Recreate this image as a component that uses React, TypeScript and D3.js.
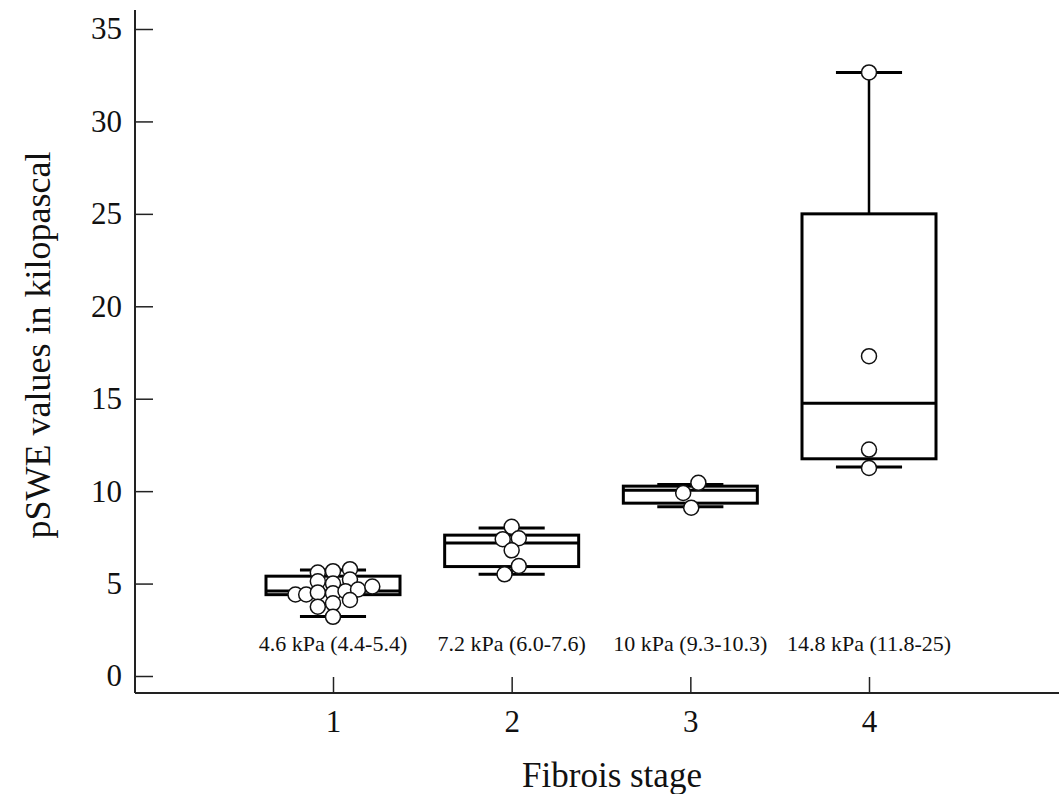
import React, { useEffect, useRef } from 'react';
import * as d3 from 'd3';

// chart values
const stages = [1, 2, 3, 4];
const whiskerLow = [3.22, 5.5, 9.15, 11.3];
const q1 = [4.4, 5.92, 9.35, 11.75];
const medians = [4.6, 7.2, 10.05, 14.75];
const q3 = [5.4, 7.62, 10.27, 25.0];
const whiskerHigh = [5.73, 8.0, 10.36, 32.65];
const boxLabels = ['4.6 kPa (4.4-5.4)', '7.2 kPa (6.0-7.6)', '10 kPa (9.3-10.3)', '14.8 kPa (11.8-25)'];
const yTicks = [0, 5, 10, 15, 20, 25, 30, 35];

// individual measurements per stage, with the horizontal spread (stage units)
const stage1Values = [5.6, 5.67, 5.78, 5.12, 5.0, 5.22, 4.41, 4.41, 4.52, 4.47, 4.59, 4.68, 4.84, 3.75, 3.93, 4.11, 3.2];
const stage1Spread = [-0.085, 0, 0.095, -0.085, 0, 0.095, -0.21, -0.15, -0.085, 0, 0.07, 0.14, 0.22, -0.085, 0, 0.095, 0];
const stage2Values = [8.07, 7.4, 7.45, 6.8, 5.95, 5.5];
const stage2Spread = [0, -0.05, 0.04, 0, 0.04, -0.04];
const stage3Values = [10.45, 9.9, 9.1];
const stage3Spread = [0.045, -0.04, 0.005];
const stage4Values = [32.65, 17.3, 12.25, 11.25];
const stage4Spread = [0, 0, 0, 0];

const pointValues = [stage1Values, stage2Values, stage3Values, stage4Values];
const pointSpread = [stage1Spread, stage2Spread, stage3Spread, stage4Spread];

const width = 1059;
const height = 794;
const axisX = 135;
const axisY = 693;
const font = '"Liberation Serif", "Times New Roman", serif';

export default function App() {
  const xAxisRef = useRef<SVGGElement>(null);
  const yAxisRef = useRef<SVGGElement>(null);

  const x = d3.scaleLinear().domain([1, 4]).range([333, 869]);
  const y = d3.scaleLinear().domain([0, 35]).range([676, 29]);

  const boxHalf = 0.375;
  const capHalf = 0.185;

  useEffect(() => {
    const yAxis = d3.axisLeft(y).tickValues(yTicks).tickSize(-18).tickPadding(13);
    const yg = d3.select(yAxisRef.current!).call(yAxis);
    yg.select('.domain').remove();
    yg.selectAll('.tick line').attr('stroke', '#222').attr('stroke-width', 1.5);
    yg.selectAll('.tick text').attr('font-size', 31).attr('font-family', font).attr('fill', '#111');

    const xAxis = d3.axisBottom(x).tickValues(stages).tickFormat(d3.format('d')).tickSize(-16).tickPadding(17);
    const xg = d3.select(xAxisRef.current!).call(xAxis);
    xg.select('.domain').remove();
    xg.selectAll('.tick line').attr('stroke', '#222').attr('stroke-width', 1.5);
    xg.selectAll('.tick text').attr('font-size', 31).attr('font-family', font).attr('fill', '#111');
  }, []);

  return (
    <svg width={width} height={height} style={{ position: 'absolute', left: 0, top: 0, background: '#fff' }}>
      {/* axis lines */}
      <line x1={axisX} x2={axisX} y1={10} y2={axisY} stroke="#222" strokeWidth={2} />
      <line x1={axisX} x2={width} y1={axisY} y2={axisY} stroke="#222" strokeWidth={2} />
      <g ref={yAxisRef} transform={`translate(${axisX},0)`} />
      <g ref={xAxisRef} transform={`translate(0,${axisY})`} />

      {/* box plots */}
      {stages.map((s, i) => (
        <g key={s} stroke="#000" fill="none">
          <line x1={x(s)} x2={x(s)} y1={y(q3[i])} y2={y(whiskerHigh[i])} strokeWidth={2.5} />
          <line x1={x(s)} x2={x(s)} y1={y(q1[i])} y2={y(whiskerLow[i])} strokeWidth={2.5} />
          <line x1={x(s - capHalf)} x2={x(s + capHalf)} y1={y(whiskerHigh[i])} y2={y(whiskerHigh[i])} strokeWidth={3} />
          <line x1={x(s - capHalf)} x2={x(s + capHalf)} y1={y(whiskerLow[i])} y2={y(whiskerLow[i])} strokeWidth={3} />
          <rect x={x(s - boxHalf)} y={y(q3[i])} width={x(s + boxHalf) - x(s - boxHalf)} height={y(q1[i]) - y(q3[i])} strokeWidth={3} />
          <line x1={x(s - boxHalf)} x2={x(s + boxHalf)} y1={y(medians[i])} y2={y(medians[i])} strokeWidth={3} />
        </g>
      ))}

      {/* individual points */}
      {stages.map((s, i) => (
        <g key={`p${s}`}>
          {pointValues[i].map((v, j) => (
            <circle key={j} cx={x(s + pointSpread[i][j])} cy={y(v)} r={7.5} fill="#fff" stroke="#111" strokeWidth={1.5} />
          ))}
        </g>
      ))}

      {/* median (IQR) labels */}
      {stages.map((s, i) => (
        <text key={`l${s}`} x={x(s)} y={651} textAnchor="middle" fontFamily={font} fontSize={22} fill="#111">
          {boxLabels[i]}
        </text>
      ))}

      {/* axis titles */}
      <text x={612} y={787} textAnchor="middle" fontFamily={font} fontSize={35} fill="#111">Fibrois stage</text>
      <text transform={`translate(50,345) rotate(-90)`} textAnchor="middle" fontFamily={font} fontSize={36} fill="#111">
        pSWE values in kilopascal
      </text>
    </svg>
  );
}
